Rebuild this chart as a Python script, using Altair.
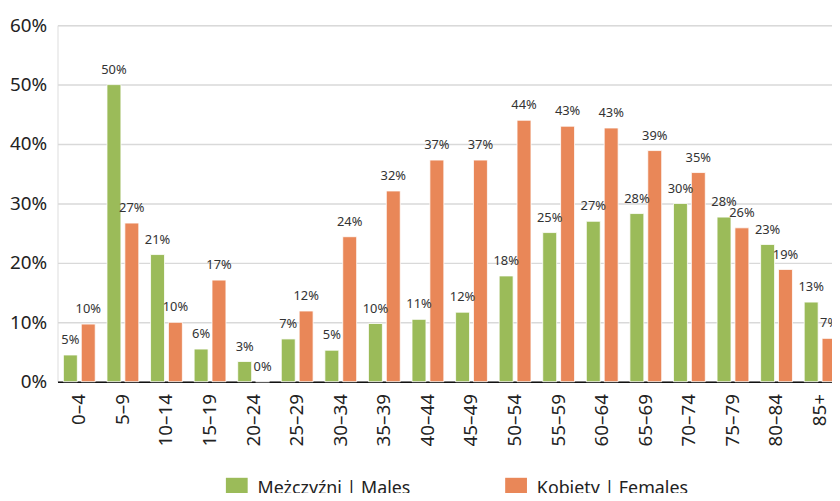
import altair as alt
import pandas as pd

ages = ["0–4", "5–9", "10–14", "15–19", "20–24", "25–29", "30–34", "35–39", "40–44",
        "45–49", "50–54", "55–59", "60–64", "65–69", "70–74", "75–79", "80–84", "85+"]
males = [4.5, 50.0, 21.4, 5.5, 3.4, 7.2, 5.3, 9.8, 10.5, 11.7, 17.8, 25.1, 27.0, 28.3, 30.0, 27.7, 23.1, 13.4]
females = [9.7, 26.7, 10.0, 17.1, 0.0, 11.9, 24.4, 32.1, 37.3, 37.3, 44.0, 43.0, 42.7, 38.9, 35.2, 25.9, 18.9, 7.3]
series = ["Mężczyźni | Males", "Kobiety | Females"]
colors = ["#9bbb59", "#e98758"]

rows = []
for a, m, f in zip(ages, males, females):
    rows.append({"age": a, "sex": series[0], "value": m})
    rows.append({"age": a, "sex": series[1], "value": f})
df = pd.DataFrame(rows)

FONT = "Noto Sans"

x = alt.X("age:N", sort=ages, title=None,
          scale=alt.Scale(range=[0, 792], paddingInner=0.27, paddingOuter=0.135),
          axis=alt.Axis(labelAngle=270, labelFontSize=19, labelColor="#222", labelPadding=12,
                        ticks=False, domainColor="#111", domainWidth=1.5, labelFont=FONT))
xo = alt.XOffset("sex:N", sort=series, scale=alt.Scale(paddingInner=0.22, paddingOuter=0))
y = alt.Y("value:Q", title=None,
          scale=alt.Scale(domain=[0, 60], nice=False),
          axis=alt.Axis(values=[0, 10, 20, 30, 40, 50, 60], labelExpr="datum.value + '%'",
                        labelFontSize=19, labelColor="#222", labelPadding=11, ticks=False,
                        domain=False, gridColor="#d9d9d9", gridWidth=1.5, labelFont=FONT))
color = alt.Color("sex:N", sort=series, scale=alt.Scale(domain=series, range=colors),
                  legend=alt.Legend(title=None, orient="none", legendX=170, legendY=457,
                                    direction="horizontal", symbolType="square", symbolSize=484,
                                    symbolStrokeWidth=0, labelFontSize=18, labelColor="#222",
                                    labelFont=FONT, columnPadding=95, labelOffset=10))

base = alt.Chart(df).encode(x=x, xOffset=xo)
bars = base.mark_bar(stroke="white", strokeWidth=0.8).encode(y=y, color=color)
labels = base.transform_calculate(lbl="round(datum.value) + '%'").mark_text(
    dy=-11, baseline="alphabetic", fontSize=13, color="#333", font=FONT
).encode(y=alt.Y("value:Q"), text="lbl:N")

chart = alt.layer(bars, labels).properties(
    width=782, height=360,
    padding={"left": 50, "top": 15, "right": 0, "bottom": 110},
    autosize=alt.AutoSizeParams(type="none"),
).configure_view(stroke=None).configure(font=FONT)

chart.save("out.html", embed_options={"renderer": "svg", "actions": False})
